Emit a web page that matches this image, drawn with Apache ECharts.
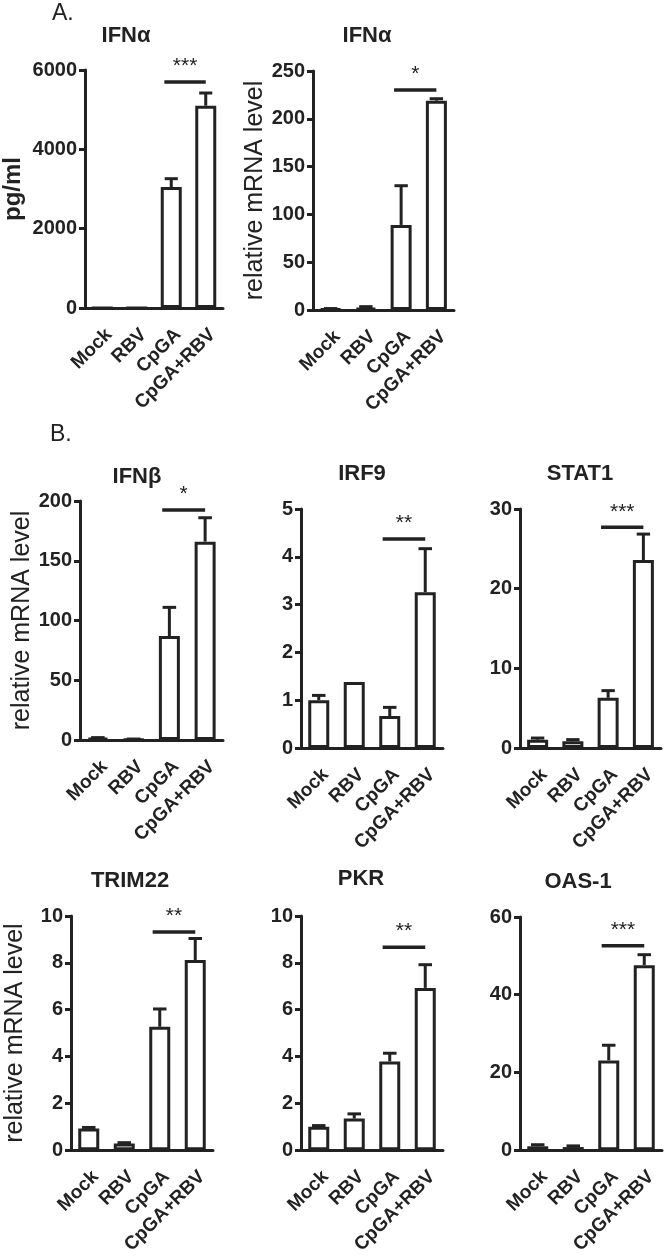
<!DOCTYPE html>
<html>
<head>
<meta charset="utf-8">
<script src="https://cdn.jsdelivr.net/npm/echarts@6/dist/echarts.min.js"></script>
<style>
html,body{margin:0;padding:0;background:#fff;}
#c{width:664px;height:1257px;}
</style>
</head>
<body>
<div id="c"></div>
<script>
// ---------- data ----------
const categories = ['Mock', 'RBV', 'CpGA', 'CpGA+RBV'];

const ifnaProtein    = [0, 0, 3050, 5100];
const ifnaProteinErr = [0, 0, 210, 320];

const ifnaMrna    = [1, 2, 89, 219];
const ifnaMrnaErr = [0.5, 1.5, 41, 2];

const ifnb    = [1.5, 0.5, 87, 166];
const ifnbErr = [0.5, 0.3, 24, 20];

const irf9    = [1.0, 1.38, 0.67, 3.26];
const irf9Err = [0.1, 0, 0.18, 0.91];

const stat1    = [1.05, 0.85, 6.3, 23.6];
const stat1Err = [0.2, 0.2, 0.9, 3.25];

const trim22    = [0.93, 0.28, 5.27, 8.12];
const trim22Err = [0.04, 0.04, 0.76, 0.92];

const pkr    = [1.0, 1.35, 3.79, 6.93];
const pkrErr = [0.05, 0.2, 0.35, 0.99];

const oas1    = [1.0, 0.8, 23.1, 47.6];
const oas1Err = [0.4, 0.3, 3.9, 2.7];

// axis max / interval
const axisMax      = [6000, 250, 200, 5, 30, 10, 10, 60];
const axisInterval = [2000, 50, 50, 1, 10, 2, 2, 20];

// significance: [groupA, groupB, y value], label
const sigBars   = [[2, 3, 5700], [2, 3, 230], [2, 3, 192.5], [2, 3, 4.37], [2, 3, 27.7], [2, 3, 9.32], [2, 3, 8.67], [2, 3, 52.6]];
const sigLabels = ['***', '*', '*', '**', '***', '**', '**', '***'];

const panelTitles = ['IFN\u03b1', 'IFN\u03b1', 'IFN\u03b2', 'IRF9', 'STAT1', 'TRIM22', 'PKR', 'OAS-1'];
const yNames      = ['pg/ml', 'relative mRNA level', 'relative mRNA level', '', '', 'relative mRNA level', '', ''];

const means = [ifnaProtein, ifnaMrna, ifnb, irf9, stat1, trim22, pkr, oas1];
const errs  = [ifnaProteinErr, ifnaMrnaErr, ifnbErr, irf9Err, stat1Err, trim22Err, pkrErr, oas1Err];

// ---------- layout ----------
const grids = [
  {left: 80,  top: 70,  width: 143, height: 238},
  {left: 313, top: 71,  width: 141, height: 239},
  {left: 80,  top: 501, width: 143, height: 239},
  {left: 301, top: 509, width: 142, height: 239},
  {left: 520, top: 509, width: 141, height: 239},
  {left: 71,  top: 916, width: 142, height: 239},
  {left: 301, top: 916, width: 142, height: 239},
  {left: 520, top: 917, width: 142, height: 238}
];
const yNameGap = [60, 37, 44, 0, 0, 43, 0, 0];
const titlePos = [[121, 20], [362, 20], [132, 461], [357, 458], [575, 458], [125, 865], [356, 863], [573, 866]];

const INK = '#222';
const FONT = 'Liberation Sans, Arial, Helvetica, sans-serif';

const option = {
  animation: false,
  backgroundColor: '#fff',
  title: [],
  grid: [],
  xAxis: [],
  yAxis: [],
  series: [],
  graphic: [
    {type: 'text', left: 52, top: 2, style: {text: 'A.', font: '23px ' + FONT, fill: INK}},
    {type: 'text', left: 50, top: 423, style: {text: 'B.', font: '23px ' + FONT, fill: INK}}
  ]
};

for (let i = 0; i < 8; i++) {
  option.grid.push(Object.assign({containLabel: false}, grids[i]));
  option.title.push({
    text: panelTitles[i],
    left: titlePos[i][0], top: titlePos[i][1],
    textAlign: 'center',
    textStyle: {fontFamily: FONT, fontWeight: 'bold', fontSize: 22, color: INK}
  });
  option.xAxis.push({
    type: 'category', gridIndex: i, data: categories,
    axisLine: {lineStyle: {color: INK, width: 3}},
    axisTick: {alignWithLabel: true, length: 7, lineStyle: {color: INK, width: 3}},
    axisLabel: {rotate: 45, margin: 17, interval: 0, verticalAlign: 'top',
      fontFamily: FONT, fontWeight: 'bold', fontSize: 19, color: INK}
  });
  option.yAxis.push({
    type: 'value', gridIndex: i, min: 0, max: axisMax[i], interval: axisInterval[i],
    name: yNames[i], nameLocation: 'middle', nameGap: yNameGap[i],
    nameTextStyle: {fontFamily: FONT, fontSize: i === 0 ? 24 : 25, fontWeight: i === 0 ? 'bold' : 'normal', color: INK},
    splitLine: {show: false},
    axisLine: {show: true, lineStyle: {color: INK, width: 3}},
    axisTick: {show: true, length: 6, lineStyle: {color: INK, width: 3}},
    axisLabel: {margin: 8, formatter: function (v) { return String(v); },
      fontFamily: FONT, fontWeight: 'bold', fontSize: 20, color: INK}
  });
  // bars
  option.series.push({
    type: 'bar', xAxisIndex: i, yAxisIndex: i,
    data: means[i], barWidth: 21, z: 3,
    itemStyle: {color: '#fff', borderColor: INK, borderWidth: 3}
  });
  // error bars (upper only)
  const eData = means[i].map((m, k) => [k, m, errs[i][k]]);
  option.series.push({
    type: 'custom', xAxisIndex: i, yAxisIndex: i, z: 2,
    data: eData, encode: {x: 0, y: 1},
    renderItem: function (params, api) {
      const k = api.value(0), m = api.value(1), e = api.value(2);
      if (!e) return null;
      const base = api.coord([k, m]);
      const top = api.coord([k, m + e]);
      const half = api.size([1, 0])[0] * 0.19;
      return {
        type: 'group',
        children: [
          {type: 'line', shape: {x1: base[0], y1: base[1], x2: top[0], y2: top[1]}, style: {stroke: INK, lineWidth: 3}},
          {type: 'line', shape: {x1: top[0] - half, y1: top[1], x2: top[0] + half, y2: top[1]}, style: {stroke: INK, lineWidth: 3}}
        ]
      };
    }
  });
  // significance bracket
  option.series.push({
    type: 'custom', xAxisIndex: i, yAxisIndex: i, z: 4, clip: false,
    data: [sigBars[i].concat([i])], encode: {x: 0, y: 2},
    renderItem: function (params, api) {
      const a = api.value(0), b = api.value(1), y = api.value(2), idx = api.value(3);
      const p1 = api.coord([a, y]);
      const p2 = api.coord([b, y]);
      const band = api.size([1, 0])[0];
      const x1 = p1[0] - band * 0.2, x2 = p2[0];
      return {
        type: 'group',
        children: [
          {type: 'line', shape: {x1: x1, y1: p1[1], x2: x2, y2: p1[1]}, style: {stroke: INK, lineWidth: 3.5}},
          {type: 'text', x: (x1 + x2) / 2, y: p1[1] - 5,
           style: {text: sigLabels[idx], font: '21px ' + FONT, fill: INK, align: 'center', verticalAlign: 'bottom'}}
        ]
      };
    }
  });
}

const chart = echarts.init(document.getElementById('c'), null, {renderer: 'canvas'});
chart.setOption(option);
</script>
</body>
</html>
